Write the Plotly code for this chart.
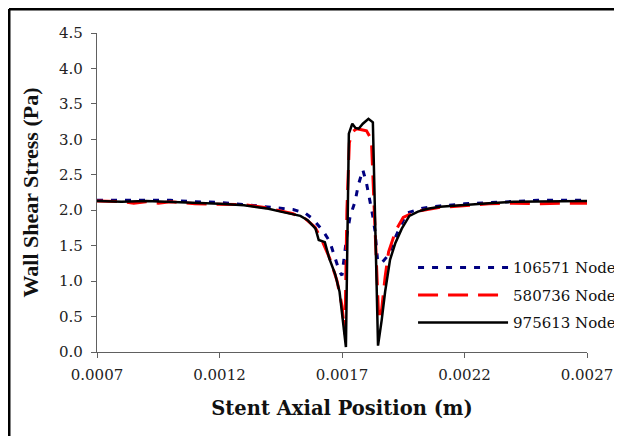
import plotly.graph_objects as go

# ---- data ----
x_106571 = [0.00070, 0.00080, 0.00090, 0.00100, 0.00110, 0.00120, 0.00130, 0.00140, 0.00145,
            0.00150, 0.00155, 0.00158, 0.00160, 0.00162, 0.00165, 0.00167, 0.00169, 0.00170,
            0.00171, 0.00172, 0.001733, 0.001753, 0.001767, 0.001785, 0.00180, 0.001812,
            0.001825, 0.001835, 0.001845, 0.00186, 0.00189, 0.00191, 0.001937, 0.001964,
            0.00203, 0.00210, 0.00220, 0.00230, 0.00240, 0.00250, 0.00260, 0.00270]
y_106571 = [2.14, 2.14, 2.14, 2.14, 2.12, 2.11, 2.08, 2.05, 2.03,
            2.01, 1.96, 1.88, 1.80, 1.72, 1.56, 1.34, 1.13, 1.08,
            1.40, 1.65, 1.91, 2.12, 2.36, 2.57, 2.38, 2.17,
            1.93, 1.70, 1.30, 1.25, 1.37, 1.56, 1.77, 1.96,
            2.03, 2.06, 2.09, 2.11, 2.13, 2.14, 2.14, 2.14]

x_580736 = [0.00070, 0.00080, 0.00085, 0.00090, 0.00095, 0.00100, 0.00110, 0.00120, 0.00130,
            0.00140, 0.00150, 0.00155, 0.00159, 0.00162, 0.00165, 0.00168, 0.00170, 0.001712,
            0.00172, 0.00173, 0.00174, 0.00176, 0.00178, 0.00180, 0.00182, 0.001835,
            0.00185, 0.001862, 0.001876, 0.00189, 0.00192, 0.00195, 0.00200, 0.00210,
            0.00220, 0.00230, 0.00240, 0.00250, 0.00260, 0.00270]
y_580736 = [2.13, 2.12, 2.10, 2.12, 2.10, 2.12, 2.09, 2.09, 2.08,
            2.03, 1.95, 1.88, 1.76, 1.56, 1.32, 1.00, 0.65, 0.25,
            2.00, 2.95, 3.10, 3.15, 3.14, 3.12, 3.00, 1.80,
            0.45, 0.60, 1.06, 1.41, 1.72, 1.90, 1.98, 2.04,
            2.07, 2.09, 2.10, 2.09, 2.10, 2.10]

x_975613 = [0.00070, 0.00080, 0.00090, 0.00100, 0.00110, 0.00120, 0.00130, 0.00135, 0.00140,
            0.00145, 0.00150, 0.00153, 0.00156, 0.00158, 0.001592, 0.001605, 0.001630, 0.001648,
            0.001672, 0.001690, 0.001703, 0.001716, 0.001728, 0.001742, 0.001755, 0.001768,
            0.001785, 0.001808, 0.001826, 0.001847, 0.001862, 0.001876, 0.001896, 0.001917,
            0.001944, 0.001975, 0.002010, 0.002050, 0.002100, 0.002200, 0.002300, 0.002400,
            0.002500, 0.002600, 0.002700]
y_975613 = [2.13, 2.12, 2.13, 2.12, 2.10, 2.09, 2.07, 2.05, 2.02,
            1.98, 1.94, 1.92, 1.86, 1.79, 1.74, 1.58, 1.55, 1.32,
            1.10, 0.85, 0.45, 0.07, 3.08, 3.22, 3.16, 3.15,
            3.22, 3.29, 3.24, 0.09, 0.45, 0.85, 1.30, 1.53,
            1.74, 1.92, 1.98, 2.02, 2.05, 2.08, 2.10, 2.12,
            2.12, 2.13, 2.13]

x_ticks = [0.0007, 0.0012, 0.0017, 0.0022, 0.0027]
y_ticks = [0.0, 0.5, 1.0, 1.5, 2.0, 2.5, 3.0, 3.5, 4.0, 4.5]

WIDE_SERIF = "DejaVu Serif"
SERIF = "Liberation Serif"

fig = go.Figure()
fig.add_trace(go.Scatter(x=x_106571, y=y_106571, mode="lines", name="106571 Nodes",
                         legendgroup="a",
                         line=dict(color="#000080", width=3, dash="6px,8px")))
fig.add_trace(go.Scatter(x=x_580736, y=y_580736, mode="lines", name="580736 Nodes",
                         legendgroup="b",
                         line=dict(color="#FF0000", width=3, dash="20px,10px")))
fig.add_trace(go.Scatter(x=x_975613, y=y_975613, mode="lines", name="975613 Nodes",
                         legendgroup="c",
                         line=dict(color="#000000", width=2.5)))

axis_common = dict(showgrid=False, zeroline=False, showline=True, linecolor="#606060",
                   linewidth=1.3, ticks="outside", ticklen=5, tickcolor="#606060",
                   tickfont=dict(family=WIDE_SERIF, size=15, color="#222222"))

fig.update_xaxes(range=[0.0007, 0.0027], tickvals=x_ticks,
                 ticktext=[f"{v:.4f}" for v in x_ticks], ticklabelstandoff=4,
                 title=dict(text="<b>Stent Axial Position (m)</b>",
                            font=dict(family=WIDE_SERIF, size=19.5, color="#111111"), standoff=18),
                 **axis_common)
fig.update_yaxes(range=[0, 4.5], tickvals=y_ticks,
                 ticktext=[f"{v:.1f}" for v in y_ticks], ticklabelstandoff=5,
                 title=dict(text="<b>Wall Shear Stress (Pa)</b>",
                            font=dict(family=SERIF, size=22, color="#111111"), standoff=14),
                 **axis_common)

# outer chart frame (only top and left edges fall inside the window)
fig.add_shape(type="line", xref="paper", yref="paper",
              x0=-0.1796, x1=1.3, y0=1.0752, y1=1.0752,
              line=dict(color="black", width=3), layer="above")
fig.add_shape(type="line", xref="paper", yref="paper",
              x0=-0.1796, x1=-0.1796, y0=-0.5, y1=1.0752,
              line=dict(color="black", width=3), layer="above")

fig.update_layout(
    width=614, height=428,
    margin=dict(l=89, r=35, t=25, b=84, autoexpand=False),
    paper_bgcolor="white", plot_bgcolor="white",
    showlegend=True,
    legend=dict(x=0.645, y=0.316, xanchor="left", yanchor="top",
                bgcolor="rgba(0,0,0,0)", font=dict(family=WIDE_SERIF, size=15, color="#111111"),
                itemwidth=90, traceorder="grouped", tracegroupgap=5),
)

fig.write_html(
    "out.html",
    post_script="document.documentElement.style.overflow='hidden';"
                "document.body.style.overflow='hidden';",
)
